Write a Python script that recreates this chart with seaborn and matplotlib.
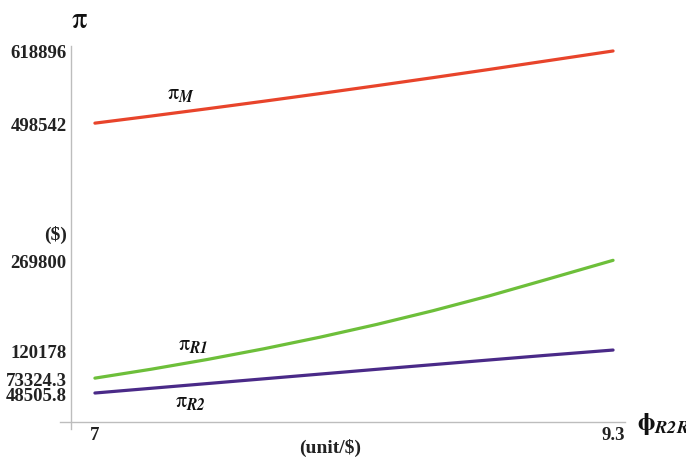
import numpy as np
import pandas as pd
import matplotlib
matplotlib.use('Agg')
import matplotlib.pyplot as plt
import seaborn as sns

# ---- data ----
phi = [7.0, 7.25, 7.5, 7.75, 8.0, 8.25, 8.5, 8.75, 9.0, 9.3]
pi_m = [498542, 510400, 522600, 535100, 547900, 561000, 574400, 588100, 602100, 618896]
pi_r1 = [73324.3, 88200, 104500, 122300, 141700, 162800, 185700, 210500, 237300, 269800]
pi_r2 = [48505.8, 56400, 64300, 72200, 80100, 88000, 95800, 103600, 111300, 120178]

y_ticks = [48505.8, 73324.3, 120178, 269800, 498542, 618896]
y_tick_labels = ['48505.8', '73324.3', '120178', '269800', '498542', '618896']
x_ticks = [7, 9.3]
x_tick_labels = ['7', '9.3']

line_colors = {'M': '#E8442B', 'R1': '#6DBF3A', 'R2': '#4A2A88'}

df = pd.DataFrame({
    'phi': phi * 3,
    'profit': pi_m + pi_r1 + pi_r2,
    'who': ['M'] * len(phi) + ['R1'] * len(phi) + ['R2'] * len(phi),
})

sns.set_theme(style='white')
plt.rcParams['font.family'] = ['Liberation Serif', 'DejaVu Serif']
plt.rcParams['mathtext.fontset'] = 'stix'

W, H = 686, 460
fig = plt.figure(figsize=(W / 100, H / 100), dpi=100)
ax = fig.add_axes([60 / W, 1 - 430 / H, (625 - 60) / W, (430 - 47) / H])

sns.lineplot(data=df, x='phi', y='profit', hue='who', palette=line_colors,
             linewidth=2.3, legend=False, ax=ax)

ax.set_xlim(6.845, 9.353)
ax.set_ylim(-11500, 627200)

for s in ['top', 'right']:
    ax.spines[s].set_visible(False)
ax.spines['left'].set_position(('data', 6.893))
ax.spines['bottom'].set_position(('data', 0))
for s in ['left', 'bottom']:
    ax.spines[s].set_color('#BDBDBD')
    ax.spines[s].set_linewidth(1.0)

ax.set_yticks(y_ticks)
ax.set_yticklabels(y_tick_labels)
ax.set_xticks(x_ticks)
ax.set_xticklabels(x_tick_labels)
ax.tick_params(axis='both', direction='in', length=4, width=0.8, color='#BDBDBD',
               labelsize=13.5, pad=3)
for lab in ax.get_yticklabels() + ax.get_xticklabels():
    lab.set_fontweight('bold')
    lab.set_color('#222222')
ax.set_xlabel('')
ax.set_ylabel('')

# axis annotations
fig.text(79 / W, 1 - 20 / H, r'$\mathrm{\pi}$', fontsize=22, ha='center', va='center', color='#111111')
fig.text(67 / W, 1 - 235 / H, '($)', fontsize=14, fontweight='bold', ha='right',
         va='center', color='#222222')
fig.text(330 / W, 1 - 448 / H, '(unit/$)', fontsize=14, fontweight='bold',
         ha='center', va='center', color='#222222')
fig.text(637 / W, 1 - 424 / H, r'$\mathbf{\phi}_{\mathbfit{R2R1}}$', fontsize=19,
         ha='left', va='center', color='#111111')

# curve labels
fig.text(181 / W, 1 - 95 / H, r'$\mathrm{\pi}_{\mathbfit{M}}$', fontsize=16, ha='center', va='center', color='#111111')
fig.text(193 / W, 1 - 346 / H, r'$\mathrm{\pi}_{\mathbfit{R1}}$', fontsize=16, ha='center', va='center', color='#111111')
fig.text(190 / W, 1 - 403 / H, r'$\mathrm{\pi}_{\mathbfit{R2}}$', fontsize=16, ha='center', va='center', color='#111111')

fig.savefig('out.png', dpi=100)
